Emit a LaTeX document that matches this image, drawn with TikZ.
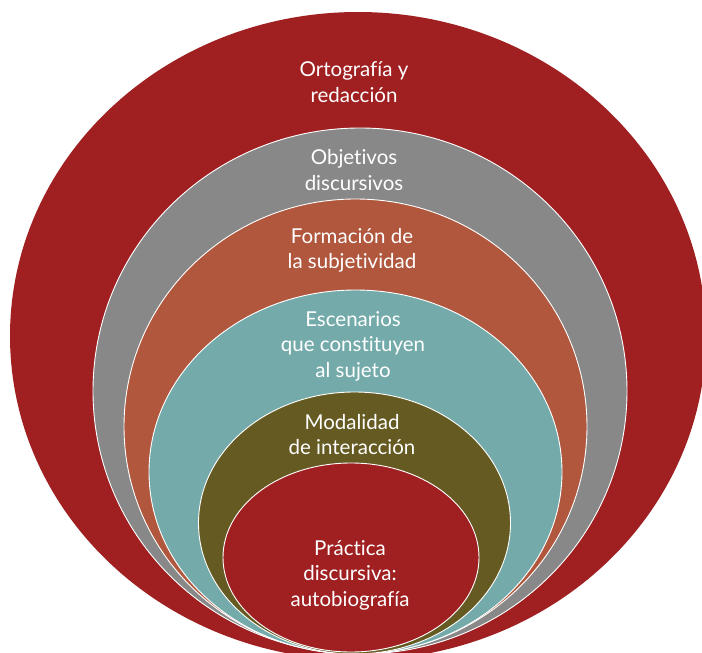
\documentclass[tikz,border=0pt]{standalone}
\usepackage{fontspec}
\setmainfont{Lato}[Ligatures=NoCommon]
\definecolor{rojo}{RGB}{160,32,34}
\definecolor{gris}{RGB}{136,136,136}
\definecolor{teja}{RGB}{176,87,61}
\definecolor{turquesa}{RGB}{116,171,170}
\definecolor{oliva}{RGB}{101,91,34}
\begin{document}
\begin{tikzpicture}[x=1pt, y=-1pt,
    capa/.style={fill=#1, draw=white, line width=0.9pt},
    etiqueta/.style={text=white, align=center, font=\fontsize{20.5}{25.5}\selectfont}]
    \useasboundingbox (0,0) rectangle (702,653);
    % centres of the nested ellipses, all resting on the bottom edge
    \coordinate (c1) at (358,336); \coordinate (c2) at (360,391);
    \coordinate (c3) at (355.5,426.5); \coordinate (c4) at (355.5,472);
    \coordinate (c5) at (354.5,523); \coordinate (c6) at (351,557.5);

    \filldraw[capa=rojo, draw=none] (c1) ellipse [x radius=348, y radius=324]; % outer
    \filldraw[capa=gris] (c2) ellipse [x radius=267, y radius=263];
    \filldraw[capa=teja] (c3) ellipse [x radius=231.5, y radius=227.5];
    \filldraw[capa=turquesa] (c4) ellipse [x radius=206.5, y radius=182];
    \filldraw[capa=oliva] (c5) ellipse [x radius=156, y radius=131];
    \filldraw[capa=rojo] (c6) ellipse [x radius=128, y radius=94.5]; % inner

    \node[etiqueta] (ortografia) at (354,82) {Ortografía y\\redacción};
    \node[etiqueta] (objetivos) at (354,170) {Objetivos\\discursivos};
    \node[etiqueta] (formacion) at (352,250.5) {Formación de\\la subjetividad};
    \node[etiqueta] (escenarios) at (353,346) {Escenarios\\que constituyen\\al sujeto};
    \node[etiqueta] (modalidad) at (352,434.5) {Modalidad\\de interacción};
    \node[etiqueta] (practica) at (350,575) {Práctica\\discursiva:\\autobiografía};
\end{tikzpicture}
\end{document}
